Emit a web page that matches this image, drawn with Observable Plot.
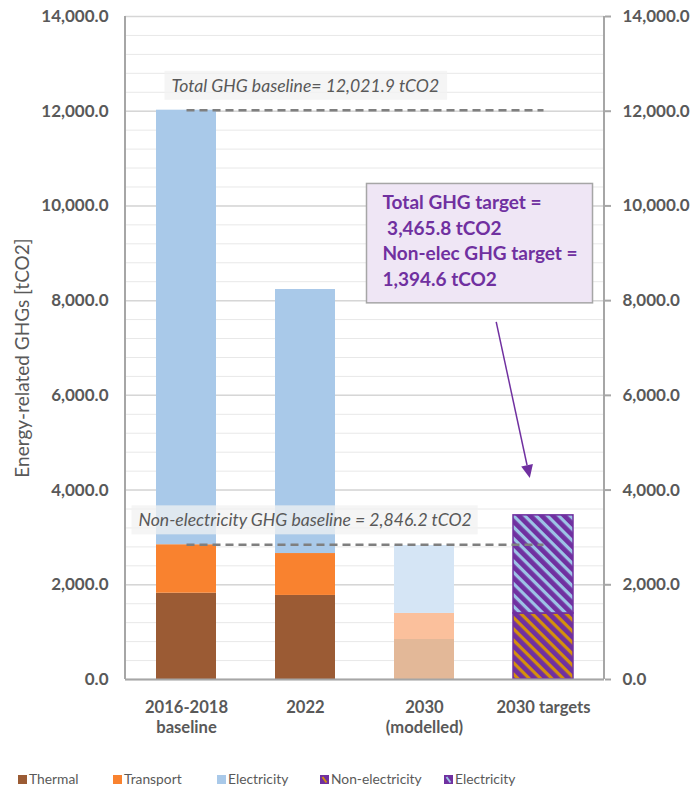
<!DOCTYPE html>
<html><head><meta charset="utf-8">
<script src="https://cdn.jsdelivr.net/npm/d3@7"></script>
<script src="https://cdn.jsdelivr.net/npm/@observablehq/plot@0.6"></script>
<style>
html,body{margin:0;padding:0;background:#fff;}
#chart{width:690px;}
#chart svg{display:block;}
.legend{position:relative;width:690px;height:34px;font-family:Lato,sans-serif;font-size:13.8px;color:#595959;}
.legend .item{position:absolute;top:15px;display:flex;align-items:center;white-space:nowrap;line-height:18px;}
.legend .sw{width:9px;height:9px;margin-right:2px;display:block;}
</style></head><body>
<div id="chart"></div>
<div class="legend" id="legend"></div>
<script>
// ---- data ----
const categories = ["2016-2018\nbaseline", "2022", "2030\n(modelled)", "2030 targets"];
const thermal = [1822, 1775, 845, null];
const transport = [1024, 885, 550, null];
const electricity = [9175.7, 5575, 1435, null];
const targetNonElec = [null, null, null, 1394.6];
const targetElec = [null, null, null, 2071.2];
const baselineValues = [12021.9, 2846.2];
const baselineLabels = ["Total GHG baseline= 12,021.9 tCO2", "Non-electricity GHG baseline = 2,846.2 tCO2"];
const targetNote = "Total GHG target =\n\u00a03,465.8 tCO2\nNon-elec GHG target =\n1,394.6 tCO2";
const yTicks = [0, 2000, 4000, 6000, 8000, 10000, 12000, 14000];
const yMinorTicks = d3.range(400, 14001, 400);
const legendLabels = ["Thermal", "Transport", "Electricity", "Non-electricity", "Electricity"];
const yTitle = "Energy-related GHGs [tCO2]";

// ---- styles ----
const PURPLE = "#7030A0";
const series = [
  {name: "Thermal", values: thermal, fill: "#9B5B34", faded: "#E3B898"},
  {name: "Transport", values: transport, fill: "#F9822F", faded: "#FBC09C"},
  {name: "Electricity", values: electricity, fill: "#A9C9E9", faded: "#D5E5F5"},
  {name: "Non-electricity", values: targetNonElec, fill: "url(#hatchGold)", stroke: PURPLE},
  {name: "Electricity target", values: targetElec, fill: "url(#hatchBlue)", stroke: PURPLE}
];

const rows = [];
categories.forEach((cat, i) => {
  let base = 0;
  for (const s of series) {
    const v = s.values[i];
    if (v == null) continue;
    rows.push({cat, series: s.name, y1: base, y2: base + v,
      fill: (i === 2 && s.faded) ? s.faded : s.fill,
      stroke: s.stroke || "none"});
    base += v;
  }
});
const baselines = baselineValues.map((value, i) => ({value, label: baselineLabels[i]}));

const fmt = d3.format(",.1f");

const plot = Plot.plot({
  width: 690, height: 755,
  marginLeft: 125, marginRight: 86, marginTop: 16, marginBottom: 76,
  x: {domain: categories, paddingInner: 0.5, paddingOuter: 0.25, label: null},
  y: {domain: [0, 14000], label: null},
  color: {type: "identity"},
  style: {fontFamily: "Lato, sans-serif", fontSize: "16px", color: "#595959", background: "white"},
  marks: [
    Plot.gridY(yMinorTicks, {stroke: "#E8E8E8", strokeOpacity: 1, strokeWidth: 1}),
    Plot.gridY(yTicks, {stroke: "#D6D6D6", strokeOpacity: 1, strokeWidth: 1.5}),
    Plot.barY(rows, {x: "cat", y1: "y1", y2: "y2", fill: "fill", stroke: "stroke", strokeWidth: 1.5}),
    Plot.link(baselines, {x1: () => categories[0], x2: () => categories[3], y1: "value", y2: "value",
      stroke: "#7F7F7F", strokeWidth: 2.5, strokeDasharray: "8,5"}),
    Plot.text([baselines[0]], {x: () => categories[0], y: "value", text: "label", textAnchor: "start",
      lineAnchor: "middle", dx: -15, dy: -24, fontStyle: "italic", fontSize: 17.6, fill: "#595959"}),
    Plot.text([baselines[1]], {x: () => categories[0], y: "value", text: "label", textAnchor: "start",
      lineAnchor: "middle", dx: -48, dy: -24, fontStyle: "italic", fontSize: 17.6, fill: "#595959"}),
    Plot.text([{cat: categories[3], value: 9291, text: targetNote}], {x: "cat", y: "value", text: "text",
      textAnchor: "start", lineAnchor: "middle", dx: -161, fontSize: 19, fontWeight: "bold",
      fill: PURPLE, lineHeight: 1.34}),
    Plot.ruleY([0], {stroke: "#A6A6A6", strokeWidth: 2}),
    Plot.axisY({anchor: "left", ticks: yTicks, tickSize: 0, tickPadding: 17, tickFormat: fmt,
      fontSize: 17, fontWeight: "bold", fill: "#595959", label: null}),
    Plot.axisY({anchor: "right", ticks: yTicks, tickSize: 6, tickPadding: 12, tickFormat: fmt,
      fontSize: 17, fontWeight: "bold", fill: "#595959", stroke: "#A6A6A6", strokeWidth: 2, label: null}),
    Plot.axisX({tickSize: 0, tickPadding: 20, fontSize: 16.6, fontWeight: "bold", fill: "#595959",
      lineHeight: 1.17, label: null}),
    Plot.text([yTitle], {frameAnchor: "left", text: d => d, rotate: -90, dx: -103, dy: 10,
      textAnchor: "middle", fontSize: 19, fill: "#595959", lineAnchor: "middle"})
  ]
});

document.getElementById("chart").appendChild(plot);

// ---- patterns ----
const svg = d3.select(plot);
const defs = svg.insert("defs", ":first-child");
function hatch(id, color) {
  const p = defs.append("pattern").attr("id", id).attr("patternUnits", "userSpaceOnUse")
    .attr("width", 8).attr("height", 8).attr("patternTransform", "rotate(45)");
  p.append("rect").attr("width", 8).attr("height", 8).attr("fill", PURPLE);
  p.append("rect").attr("width", 8).attr("height", 3.2).attr("fill", color);
}
hatch("hatchGold", "#D4900C");
hatch("hatchBlue", "#9DC3E6");

// ---- scale helpers ----
const xs = plot.scale("x"), ys = plot.scale("y");
const [xL, xR] = xs.range;
const [yB, yT] = ys.range;

// axis lines left and right
const axisG = svg.append("g").attr("stroke", "#A6A6A6").attr("stroke-width", 2);
axisG.append("line").attr("x1", xL).attr("x2", xL).attr("y1", yT).attr("y2", yB);
axisG.append("line").attr("x1", xR).attr("x2", xR).attr("y1", yT).attr("y2", yB);

// label boxes behind texts
function boxFor(match, pad, fill, stroke, opacity) {
  const t = Array.from(plot.querySelectorAll("text")).find(e => e.textContent.startsWith(match));
  if (!t) return;
  const b = t.getBBox();
  const r = document.createElementNS("http://www.w3.org/2000/svg", "rect");
  r.setAttribute("x", b.x - pad[3]);
  r.setAttribute("y", b.y - pad[0]);
  r.setAttribute("width", b.width + pad[1] + pad[3]);
  r.setAttribute("height", b.height + pad[0] + pad[2]);
  r.setAttribute("fill", fill);
  r.setAttribute("fill-opacity", opacity);
  if (stroke) { r.setAttribute("stroke", stroke); r.setAttribute("stroke-width", 1.5); }
  const tr = t.getAttribute("transform");
  if (tr) r.setAttribute("transform", tr);
  t.parentNode.insertBefore(r, t);
}
boxFor("Total GHG baseline", [4, 8, 4, 7], "#F2F2F2", null, 0.75);
boxFor("Non-electricity GHG", [4, 6, 4, 7], "#F2F2F2", null, 0.75);
boxFor("Total GHG target", [7, 15, 13, 16], "#EFE6F5", "#A6A6A6", 1);

// arrow from note to target bar
const arrowFrom = {cat: categories[3], offset: -0.78, value: 7540};
const arrowTo = {cat: categories[3], offset: -0.22, value: 4245};
const px = d => xs.apply(d.cat) + xs.bandwidth / 2 + d.offset * xs.bandwidth;
const py = d => ys.apply(d.value);
const x1 = px(arrowFrom), y1 = py(arrowFrom), x2 = px(arrowTo), y2 = py(arrowTo);
const ang = Math.atan2(y2 - y1, x2 - x1);
const hl = 13, hw = 6;
const bx = x2 - hl * Math.cos(ang), by = y2 - hl * Math.sin(ang);
svg.append("line").attr("x1", x1).attr("y1", y1).attr("x2", bx).attr("y2", by)
  .attr("stroke", PURPLE).attr("stroke-width", 1.5);
svg.append("path").attr("fill", PURPLE).attr("d",
  `M${x2},${y2}L${bx + hw * Math.sin(ang)},${by - hw * Math.cos(ang)}L${bx - hw * Math.sin(ang)},${by + hw * Math.cos(ang)}Z`);

// ---- legend ----
const legendSw = [
  {type: "solid", color: "#9B5B34"},
  {type: "solid", color: "#F9822F"},
  {type: "solid", color: "#A9C9E9"},
  {type: "hatch", color: "#D4900C"},
  {type: "hatch", color: "#9DC3E6"}
];
const legendLeft = [18, 113, 217, 320, 444];
const leg = d3.select("#legend");
legendLabels.forEach((lab, i) => {
  const it = leg.append("div").attr("class", "item").style("left", legendLeft[i] + "px");
  const s = it.append("svg").attr("class", "sw").attr("width", 9).attr("height", 9);
  if (legendSw[i].type === "solid") {
    s.append("rect").attr("width", 9).attr("height", 9).attr("fill", legendSw[i].color);
  } else {
    s.append("rect").attr("width", 9).attr("height", 9).attr("fill", PURPLE);
    s.append("line").attr("x1", 2.5).attr("y1", 2).attr("x2", 6.5).attr("y2", 7.5)
      .attr("stroke", legendSw[i].color).attr("stroke-width", 2);
  }
  it.append("span").text(lab);
});
</script>
</body></html>
